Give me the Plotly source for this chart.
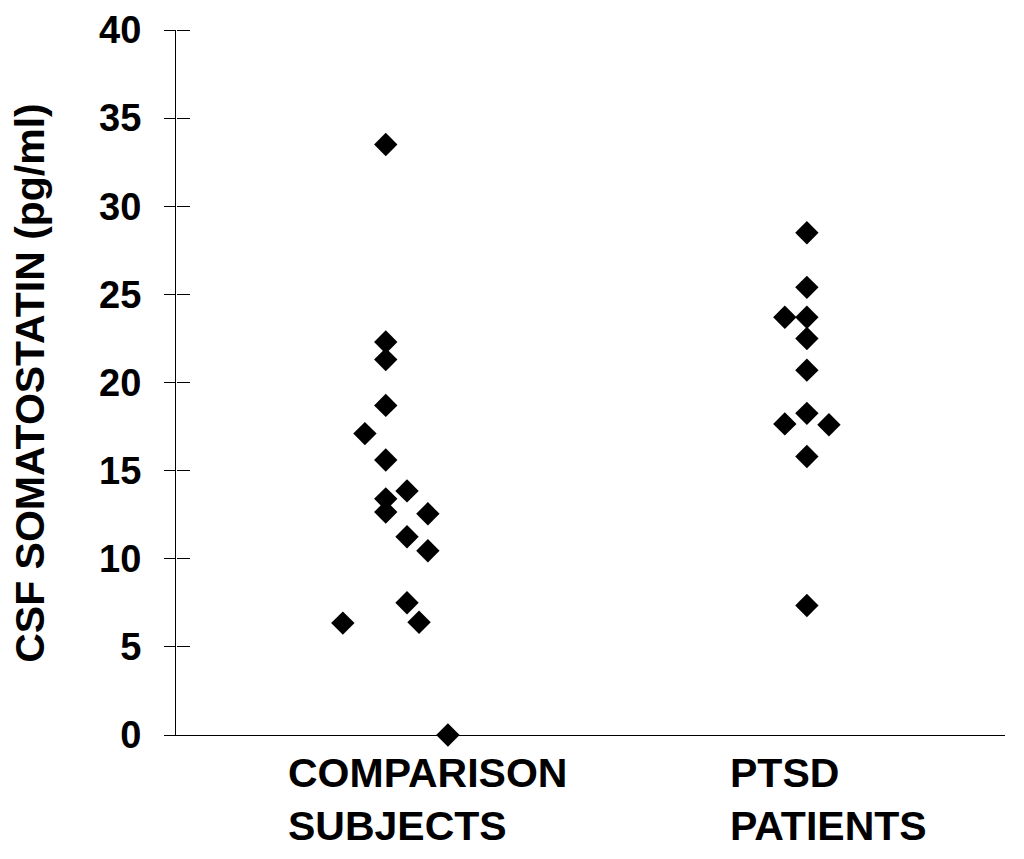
import plotly.graph_objects as go

# ---- data ----
categories = ["COMPARISON<br>SUBJECTS", "PTSD<br>PATIENTS"]
comparison_values = [33.5, 22.3, 21.3, 18.7, 17.1, 15.6, 13.85, 13.4, 12.65, 12.55,
                     11.25, 10.45, 7.5, 6.4, 6.35, 0.0]
comparison_jitter = [-0.105, -0.105, -0.105, -0.105, -0.157, -0.105, -0.052, -0.105,
                     -0.105, 0.0, -0.052, 0.0, -0.052, -0.022, -0.212, 0.05]
ptsd_values = [28.5, 25.4, 23.7, 23.7, 22.5, 20.7, 18.25, 17.65, 17.6, 15.8, 7.35]
ptsd_jitter = [-0.055, -0.055, -0.11, -0.055, -0.055, -0.055, -0.055, -0.11, 0.0,
               -0.055, -0.055]
y_ticks = [0, 5, 10, 15, 20, 25, 30, 35, 40]
y_title = "CSF SOMATOSTATIN (pg/ml)"

FONT = "Arial, 'Liberation Sans', Helvetica, sans-serif"

fig = go.Figure()
for i, (vals, jit) in enumerate([(comparison_values, comparison_jitter),
                                 (ptsd_values, ptsd_jitter)]):
    fig.add_trace(go.Scatter(
        x=[i + 1 + j for j in jit], y=vals, mode="markers",
        marker=dict(symbol="diamond", size=18, color="black", line=dict(width=0)),
        cliponaxis=False, showlegend=False, hoverinfo="y"))

# invisible copy on the overlay axis so its right-pointing ticks get drawn
fig.add_trace(go.Scatter(x=[1 + j for j in comparison_jitter], y=comparison_values,
                         yaxis="y2", mode="markers", marker=dict(opacity=0),
                         showlegend=False, hoverinfo="skip"))

for i, cat in enumerate(categories):
    fig.add_annotation(x=i + 1, xref="x", y=-0.018, yref="paper",
                       text="<b>" + cat + "</b>", showarrow=False,
                       xanchor="center", yanchor="top", align="left",
                       font=dict(family=FONT, size=41, color="black"))

fig.add_annotation(x=-0.177, xref="paper", y=0.5, yref="paper",
                   text="<b>" + y_title + "</b>", textangle=-90, showarrow=False,
                   xanchor="center", yanchor="middle",
                   font=dict(family=FONT, size=41, color="black"))

fig.update_layout(
    width=1024, height=859,
    margin=dict(l=176, r=19, t=30, b=124, autoexpand=False),
    paper_bgcolor="white", plot_bgcolor="white",
    font=dict(family=FONT, color="black"),
    xaxis=dict(range=[0.372, 2.439], showgrid=False, zeroline=False,
               showticklabels=False, ticks="", showline=True,
               linecolor="black", linewidth=1),
    yaxis=dict(range=[0, 40], tickvals=y_ticks, showgrid=False, zeroline=False,
               showline=True, linecolor="black", linewidth=1,
               ticks="outside", ticklen=11, tickcolor="black", tickwidth=1,
               tickfont=dict(family=FONT, size=38, color="black", weight="bold"),
               ticklabelstandoff=15),
    yaxis2=dict(range=[0, 40], overlaying="y", side="right", anchor="free",
                position=0, tickvals=y_ticks, showgrid=False, zeroline=False,
                showline=False, showticklabels=False, ticks="outside",
                ticklen=13, tickcolor="black", tickwidth=1),
)

fig.write_html("out.html", config={"displayModeBar": False},
               post_script="document.body.style.margin='0';"
                           "document.body.style.overflow='hidden';")
